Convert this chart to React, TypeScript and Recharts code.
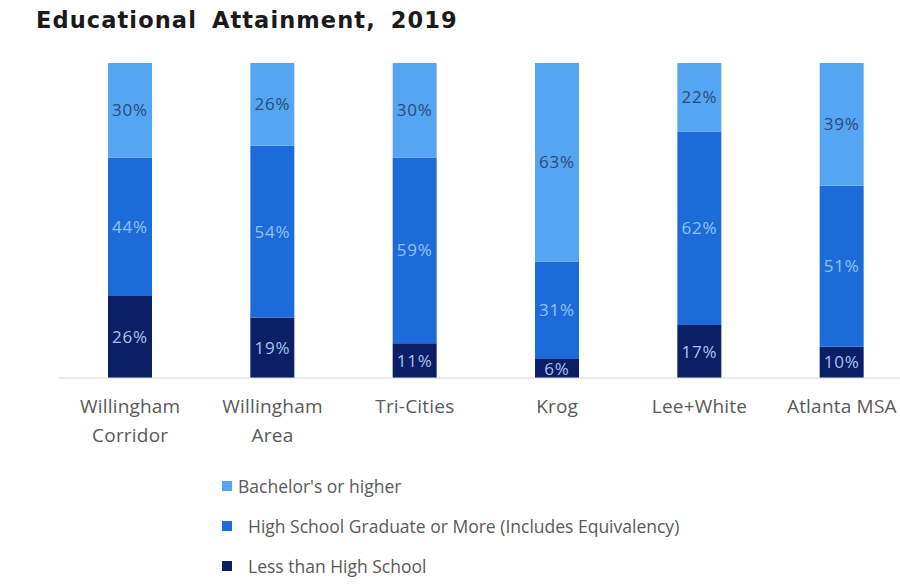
import React from 'react';
import { BarChart, Bar, XAxis, YAxis, Legend, LabelList } from 'recharts';

// Educational attainment by area, 2019 (percent of adults 25+)
const categories = ['Willingham Corridor', 'Willingham Area', 'Tri-Cities', 'Krog', 'Lee+White', 'Atlanta MSA'];
const tickLines = [['Willingham', 'Corridor'], ['Willingham', 'Area'], ['Tri-Cities'], ['Krog'], ['Lee+White'], ['Atlanta MSA']];
const lessThanHS = [26, 19, 11, 6, 17, 10];
const hsGraduate = [44, 54, 59, 31, 62, 51];
const bachelors = [30, 26, 30, 63, 22, 39];

const seriesNames = {
    bachelors: "Bachelor's or higher",
    hsGraduate: 'High School Graduate or More (Includes Equivalency)',
    lessThanHS: 'Less than High School',
};

const colors = {
    bachelors: '#55a6f2',
    hsGraduate: '#1c6bd8',
    lessThanHS: '#0a1f66',
};

const data = categories.map((name, i) => ({
    name,
    lessThanHS: lessThanHS[i],
    hsGraduate: hsGraduate[i],
    bachelors: bachelors[i],
}));

const CategoryTick = (props: any) => {
    const { x, y, payload } = props;
    const idx = categories.indexOf(payload.value);
    const lines = tickLines[idx] || [payload.value];
    return (
        <text x={x} y={y} textAnchor="middle" fill="#595959" fontSize={19} fontFamily="Open Sans" letterSpacing={0.2}>
            {lines.map((l, i) => (
                <tspan key={i} x={x} dy={i === 0 ? 35 : 29}>{l}</tspan>
            ))}
        </text>
    );
};

const legendOrder: (keyof typeof colors)[] = ['bachelors', 'hsGraduate', 'lessThanHS'];

const LegendList = () => (
    <div style={{ fontFamily: 'Open Sans', fontSize: 17.5, color: '#595959' }}>
        {legendOrder.map((k, i) => (
            <div key={k} style={{ display: 'flex', alignItems: 'center', height: 20, marginBottom: 20 }}>
                <span style={{ display: 'inline-block', width: 10, height: 10, background: colors[k], marginRight: i === 0 ? 6 : 16 }} />
                <span>{seriesNames[k]}</span>
            </div>
        ))}
    </div>
);

const labelFont = { fontSize: 17, fontFamily: 'Open Sans', letterSpacing: 0.8 };

export default function App() {
    return (
        <div style={{ position: 'fixed', left: 0, top: 0, width: 900, height: 584, overflow: 'hidden', background: '#fff' }}>
            <div style={{ position: 'absolute', left: 36, top: 7, fontFamily: 'DejaVu Sans', fontWeight: 700, fontSize: 22.5, color: '#1a1a1a', letterSpacing: 1.1, wordSpacing: 6 }}>
                Educational Attainment, 2019
            </div>
            <div style={{ position: 'absolute', left: 0, top: 0, width: 920, height: 584 }}>
                <BarChart width={920} height={584} data={data} stackOffset="expand" margin={{ top: 63, right: 7, left: 59, bottom: 146 }}>
                    <XAxis
                        dataKey="name"
                        height={60}
                        interval={0}
                        tickLine={false}
                        tickSize={0}
                        tickMargin={0}
                        axisLine={{ stroke: '#d9d9d9' }}
                        tick={<CategoryTick />}
                    />
                    <YAxis hide domain={[0, 1]} />
                    <Legend
                        layout="vertical"
                        align="center"
                        verticalAlign="middle"
                        content={<LegendList />}
                        wrapperStyle={{ left: 222, top: 476, width: 560 }}
                    />
                    <Bar dataKey="lessThanHS" name={seriesNames.lessThanHS} stackId="a" fill={colors.lessThanHS} barSize={44} isAnimationActive={false}>
                        <LabelList dataKey="lessThanHS" position="center" fill="#a9c4ee" formatter={(v: any) => `${v}%`} style={labelFont} />
                    </Bar>
                    <Bar dataKey="hsGraduate" name={seriesNames.hsGraduate} stackId="a" fill={colors.hsGraduate} barSize={44} isAnimationActive={false}>
                        <LabelList dataKey="hsGraduate" position="center" fill="#8fc3f7" formatter={(v: any) => `${v}%`} style={labelFont} />
                    </Bar>
                    <Bar dataKey="bachelors" name={seriesNames.bachelors} stackId="a" fill={colors.bachelors} barSize={44} isAnimationActive={false}>
                        <LabelList dataKey="bachelors" position="center" fill="#2c4a7c" formatter={(v: any) => `${v}%`} style={labelFont} />
                    </Bar>
                </BarChart>
            </div>
        </div>
    );
}
